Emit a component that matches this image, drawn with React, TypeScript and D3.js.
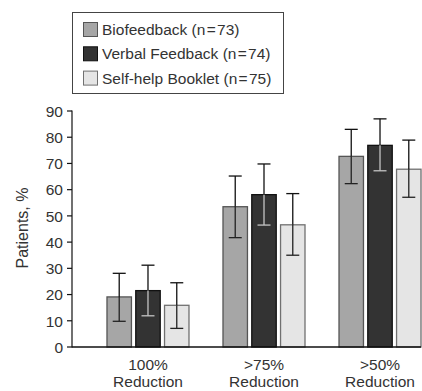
import * as d3 from "d3";

const categories = ["100%|Reduction", ">75%|Reduction", ">50%|Reduction"];
const seriesNames = ["Biofeedback (n\u200a=\u200a73)", "Verbal Feedback (n\u200a=\u200a74)", "Self-help Booklet (n\u200a=\u200a75)"];
const seriesFill = ["#a6a6a6", "#333333", "#e5e5e5"];
const seriesStroke = ["#555555", "#111111", "#707070"];
// whisker colour where it runs inside the bar
const innerWhisker = ["#222222", "#c4c4c4", "#222222"];

const biofeedback = [19.1, 53.5, 72.7];
const verbal = [21.5, 58.1, 76.9];
const booklet = [15.9, 46.6, 67.8];
const bioLow = [9.8, 41.7, 62.3];
const bioHigh = [28.1, 65.2, 83.0];
const verbalLow = [11.9, 46.5, 67.2];
const verbalHigh = [31.2, 69.8, 87.0];
const bookletLow = [7.1, 35.0, 57.1];
const bookletHigh = [24.5, 58.5, 78.9];
const yTicks = [0, 10, 20, 30, 40, 50, 60, 70, 80, 90];

const values = [biofeedback, verbal, booklet];
const lows = [bioLow, verbalLow, bookletLow];
const highs = [bioHigh, verbalHigh, bookletHigh];

const W = 422;
const H = 391;
const font = "'Liberation Sans', Arial, Helvetica, sans-serif";
const ink = "#333";

export default function App() {
  const axisX = 72;
  const axisEnd = 421;
  const y = d3.scaleLinear().domain([0, 90]).range([347, 111]);
  const x = d3.scalePoint<string>().domain(categories).range([72, 456]).padding(0.655);
  const inner = d3
    .scaleBand<number>()
    .domain([0, 1, 2])
    .range([-41, 41])
    .paddingInner(0.15);
  const bw = inner.bandwidth();
  const cap = 6.5;

  return (
    <svg
      width={W}
      height={H}
      style={{ position: "absolute", left: 0, top: 0, background: "#fff" }}
      fontFamily={font}
    >
      {/* legend */}
      <rect x={72.5} y={12.5} width={211} height={81} fill="#fff" stroke="#444" strokeWidth={1} />
      {seriesNames.map((s, i) => (
        <g key={s} transform={`translate(0,${i * 24.3})`}>
          <rect x={83.5} y={22.5} width={14} height={14} fill={seriesFill[i]} stroke={seriesStroke[i]} strokeWidth={1} />
          <text x={102} y={35} fontSize={15.5} fill={ink}>
            {s}
          </text>
        </g>
      ))}

      {/* y axis */}
      <line x1={axisX} x2={axisX} y1={y(90) - 0.5} y2={y(0) + 0.5} stroke="#111" strokeWidth={1.2} />
      {yTicks.map((t) => (
        <g key={t}>
          <line x1={axisX - 5} x2={axisX} y1={y(t)} y2={y(t)} stroke="#111" strokeWidth={1.2} />
          <text x={63} y={y(t)} dy="0.37em" textAnchor="end" fontSize={15.5} fill={ink}>
            {t}
          </text>
        </g>
      ))}
      <text
        transform={`translate(28,${228}) rotate(-90)`}
        textAnchor="middle"
        fontSize={16}
        fill={ink}
      >
        Patients, %
      </text>

      {/* bars */}
      {categories.map((c, ci) => (
        <g key={c} transform={`translate(${x(c)},0)`}>
          {values.map((vals, si) => {
            const bx = inner(si)!;
            const cx = bx + bw / 2;
            const top = y(vals[ci]);
            const hi = y(highs[si][ci]);
            const lo = y(lows[si][ci]);
            return (
              <g key={si}>
                <rect
                  x={bx}
                  y={top}
                  width={bw}
                  height={y(0) - top}
                  fill={seriesFill[si]}
                  stroke={seriesStroke[si]}
                  strokeWidth={1.3}
                />
                <line x1={cx} x2={cx} y1={hi} y2={top} stroke="#111" strokeWidth={1.3} />
                <line x1={cx - cap} x2={cx + cap} y1={hi} y2={hi} stroke="#111" strokeWidth={1.3} />
                <line x1={cx} x2={cx} y1={top} y2={lo} stroke={innerWhisker[si]} strokeWidth={1.3} />
                <line x1={cx - cap} x2={cx + cap} y1={lo} y2={lo} stroke={innerWhisker[si]} strokeWidth={1.3} />
              </g>
            );
          })}
          {c.split("|").map((part, li) => (
            <text key={li} x={0} y={370 + li * 17} textAnchor="middle" fontSize={15.5} fill={ink}>
              {part}
            </text>
          ))}
        </g>
      ))}

      {/* x axis */}
      <line x1={axisX} x2={axisEnd} y1={y(0)} y2={y(0)} stroke="#111" strokeWidth={1.3} />
    </svg>
  );
}
